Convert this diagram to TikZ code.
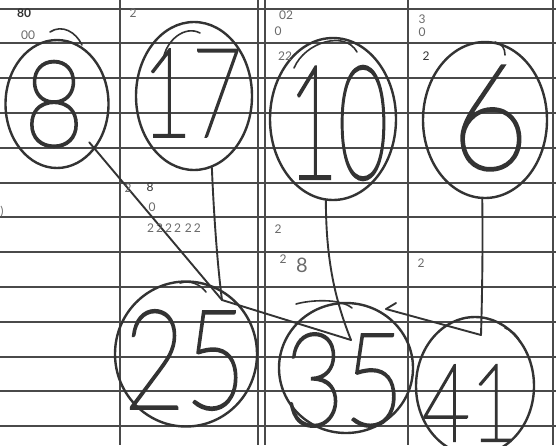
\documentclass[tikz,border=0pt]{standalone}
\usepackage{fontspec}
\usepackage{graphicx}
\usetikzlibrary{shapes.geometric}
\IfFontExistsTF{Lato Hairline}{\newfontfamily\handfont{Lato Hairline}[FakeBold=2.2]}{%
 \IfFontExistsTF{Lato Thin}{\newfontfamily\handfont{Lato Thin}[FakeBold=2.2]}{%
 \IfFontExistsTF{DejaVu Sans ExtraLight}{\newfontfamily\handfont{DejaVu Sans ExtraLight}[FakeBold=1.5]}{%
 \IfFontExistsTF{Lato Light}{\newfontfamily\handfont{Lato Light}}{\newfontfamily\handfont{Lato}}}}}
\newfontfamily\notefont{Lato}
\definecolor{ink}{HTML}{333333}
\definecolor{pencil}{HTML}{6A6A6A}
\definecolor{rule}{HTML}{4A4A4A}
\newcommand{\numtxt}[3]{\resizebox{#1pt}{#2pt}{\handfont #3}}
\begin{document}
\begin{tikzpicture}[x=1pt,y=-1pt,
  ruleh/.style={rule,line width=1.4pt},
  rulev/.style={rule,line width=1.8pt},
  ring/.style={ellipse,draw=ink,line width=2.4pt,inner sep=0pt},
  extra/.style={ink,line width=1.6pt,line cap=round},
  num/.style={inner sep=0pt,text=ink},
  link/.style={ink,line width=1.9pt,line cap=round},
  note/.style={inner sep=0pt,text=pencil,font=\notefont\fontsize{12}{12}\selectfont}]
\useasboundingbox (0,0) rectangle (556,445);
\fill[white] (0,0) rectangle (556,445);
% ruled paper
\foreach \y in {9,43,78,113,148,183,217,252,287,322,357,391,426}
  \draw[ruleh] (0,\y) -- (556,\y);
\foreach \x in {120,258,265,408,553}
  \draw[rulev] (\x,0) -- (\x,445);
% rings
\node[ring,minimum width=103pt,minimum height=128pt] (n8)  at (57,104) {};
\node[ring,minimum width=116pt,minimum height=148pt] (n17) at (194,96) {};
\node[ring,minimum width=126pt,minimum height=162pt] (n10) at (333,119) {};
\node[ring,minimum width=124pt,minimum height=156pt] (n6)  at (485,120) {};
\node[ring,minimum width=142pt,minimum height=145pt] (n25) at (186,354) {};
\node[ring,minimum width=134pt,minimum height=130pt] (n35) at (346,368) {};
\node[ring,minimum width=118pt,minimum height=138pt] (n41) at (475,386) {};
% numbers
\node[num] (d8)  at (54,104)  {\numtxt{60}{85}{8}};
\node[num] (d17) at (192,93)  {\numtxt{100}{87}{17}};
\node[num] (d10) at (338,123) {\numtxt{100}{112}{10}};
\node[num] (d6)  at (490,118) {\numtxt{78}{103}{6}};
\node[num] (d25) at (185,360) {\numtxt{122}{98}{25}};
\node[num] (d35) at (344,380) {\numtxt{120}{92}{35}};
\node[num] (d41) at (470,403) {\numtxt{96}{76}{41}};
% extra pencil strokes
\draw[extra] (50,32) .. controls (62,24) and (76,32) .. (82,45);
\draw[extra] (163,60) .. controls (166,40) and (185,25) .. (200,33);
\draw[extra] (294,68) .. controls (305,42) and (345,30) .. (357,52);
\draw[extra] (495,42) .. controls (502,44) and (505,48) .. (505,55);
\draw[extra] (180,283) .. controls (190,280) and (200,284) .. (206,292);
\draw[extra] (296,304) .. controls (310,300) and (340,298) .. (352,308);
\draw[extra] (505,328) .. controls (512,330) and (518,336) .. (520,342);
% junction points
\coordinate (a25) at (222,300);
\coordinate (a35) at (351,340);
\coordinate (a41) at (481,335);
\coordinate (h35) at (386,309);
% connectors
\draw[link,shorten <=50pt] (n8.center) -- (a25);
\draw[link] (n17.-76) .. controls (214,220) and (218,270) .. (a25);
\draw[link] (a25) -- (a35);
\draw[link] (n10.-95) .. controls (326,260) and (335,300) .. (a35);
\draw[link] (h35) -- (a41);
\draw[link] (h35) -- ++(10,-6);
\draw[link] (n6.-92) .. controls (483,250) and (482,300) .. (a41);
% pencil notes
\node[note,font=\notefont\bfseries\fontsize{12}{12}\selectfont,text=ink] (t1) at (24,13) {80};
\node[note] (t2) at (28,35) {00};
\node[note] (t3) at (133,13) {2};
\node[note] (t4) at (286,15) {02};
\node[note] (t5) at (278,31) {0};
\node[note] (t6) at (285,56) {22};
\node[note] (t7) at (422,19) {3};
\node[note] (t8) at (422,32) {0};
\node[note,text=ink] (t9) at (426,56) {2};
\node[note] (t10) at (128,188) {2};
\node[note,text=ink] (t11) at (150,187) {8};
\node[note] (t12) at (152,207) {0};
\node[note] (t13) at (174,228) {2\,2\,2\,2\,\,2\,2};
\node[note] (t14) at (278,229) {2};
\node[note] (t15) at (283,259) {2};
\node[note,font=\notefont\fontsize{20}{20}\selectfont] (t16) at (302,265) {8};
\node[note] (t17) at (421,263) {2};
\node[note] (t18) at (2,212) {)};
\end{tikzpicture}
\end{document}
